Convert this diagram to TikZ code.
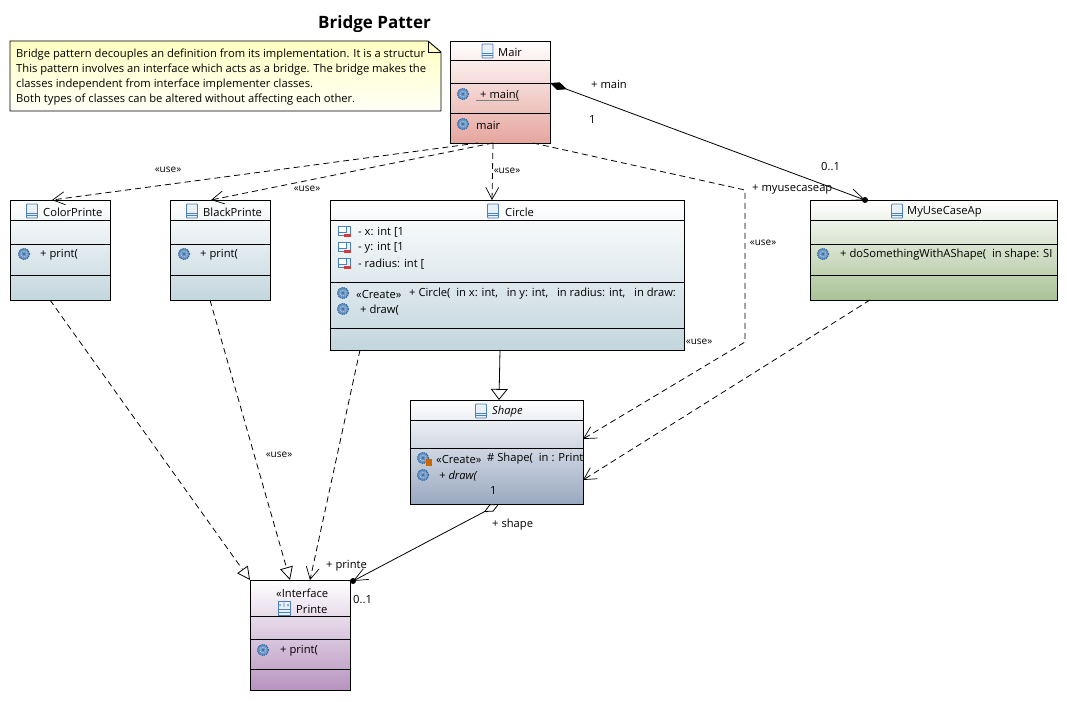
\documentclass[tikz,border=0pt]{standalone}
\usepackage{fontspec}
\setmainfont{Open Sans}
\usetikzlibrary{arrows.meta}
\definecolor{iconblue}{HTML}{4A80BE}
\definecolor{gearblue}{HTML}{2F68A8}
\definecolor{mainred}{HTML}{E5A69E}
\definecolor{printblue}{HTML}{C3D6DD}
\definecolor{appgreen}{HTML}{A9C296}
\definecolor{shapeblue}{HTML}{99A8C0}
\definecolor{ifacepurple}{HTML}{B793BF}
\definecolor{minusred}{HTML}{D23B3B}
\tikzset{
  classbox/.style={draw, line width=0.9pt, anchor=north west, inner sep=0pt, outer sep=0pt,
    top color=white, bottom color=#1},
  txt/.style={anchor=west, inner sep=0pt, yshift=-1pt, font=\fontsize{11.2}{13}\selectfont},
  stereo/.style={anchor=center, inner sep=0pt, font=\fontsize{10}{12}\selectfont},
  depend/.style={line width=0.8pt, dash pattern=on 6pt off 4pt},
  usearrow/.style={depend, -{Straight Barb[length=12pt,width=13pt,line width=0.7pt]}},
  realize/.style={depend, -{Triangle[length=13pt,width=13pt,fill=white,line width=0.8pt]}},
  classicon/.pic={
    \draw[iconblue, fill=iconblue!12, line width=0.8pt, rounded corners=0.8pt] (-5.5,-7) rectangle (5.5,7);
    \draw[iconblue, line width=0.8pt] (-5.5,2) -- (5.5,2) (-5.5,4.6) -- (5.5,4.6);
  },
  gearicon/.pic={
    \draw[gearblue, fill=gearblue!70, line width=1.2pt, densely dotted] (0,0) circle (5.6);
    \draw[white!70!gearblue, line width=0.8pt, densely dotted] (0,0) circle (3);
    \fill[gearblue] (0,0) circle (1.1);
  },
  fieldicon/.pic={
    \draw[iconblue, line width=0.8pt] (-6,-5) rectangle (6,4);
    \draw[iconblue, fill=white, line width=0.8pt] (-6,-5) rectangle (2,1);
    \fill[minusred] (0,2.5) rectangle (7,5.5);
  },
}
\begin{document}
\begin{tikzpicture}[x=1pt, y=-1pt]
  \useasboundingbox (0,0) rectangle (1067,701);
  \fill[white] (0,0) rectangle (1067,701);

  % --- title and note ---
  \node[txt, font=\fontsize{17}{19}\selectfont\bfseries] (lTitle) at (318,23) {Bridge Patter};
  \draw[line width=0.9pt, top color=yellow!24, bottom color=yellow!3]
    (10,41) -- (428,41) -- (441,52) -- (441,111) -- (10,111) -- cycle;
  \draw[line width=0.9pt] (428,41) -- (428,52) -- (441,52);
  \node[txt, anchor=north west, align=left, font=\fontsize{11.2}{15}\selectfont] (lNote) at (16,48)
    {Bridge pattern decouples an definition from its implementation. It is a structur\\
     This pattern involves an interface which acts as a bridge. The bridge makes the\\
     classes independent from interface implementer classes.\\
     Both types of classes can be altered without affecting each other.};

  % --- classes ---
  \node[classbox=mainred, minimum width=100pt, minimum height=102pt] (nMain) at (450,41) {};
  \node[classbox=printblue, minimum width=100pt, minimum height=100pt] (nColor) at (10,200) {};
  \node[classbox=printblue, minimum width=100pt, minimum height=100pt] (nBlack) at (170,200) {};
  \node[classbox=printblue, minimum width=354pt, minimum height=150pt] (nCircle) at (330,200) {};
  \node[classbox=appgreen, minimum width=247pt, minimum height=100pt] (nApp) at (810,200) {};
  \node[classbox=shapeblue, minimum width=173pt, minimum height=104pt] (nShape) at (410,400) {};
  \node[classbox=ifacepurple, minimum width=100pt, minimum height=110pt] (nPrinter) at (250,580) {};

  % compartment lines
  \foreach \nm/\yy in {nMain/60.5, nMain/83, nMain/113,
      nColor/220, nColor/244, nColor/275,
      nBlack/220, nBlack/244, nBlack/275,
      nCircle/220.5, nCircle/282.5, nCircle/328,
      nApp/220, nApp/244, nApp/275,
      nShape/420.5, nShape/448,
      nPrinter/616, nPrinter/639, nPrinter/669}
    \draw[line width=0.9pt] (\nm.west |- 0,\yy) -- (\nm.east |- 0,\yy);

  % --- icons ---
  \foreach \xx/\yy in {487.5/51, 32/211, 192/211, 493/211, 481/411, 897/211}
    \pic at (\xx,\yy) {classicon};
  \foreach \xx/\yy in {463/94, 463/124, 24/254, 184/254, 343/293, 343/309, 423/458, 423/475, 263/650, 823/254}
    \pic at (\xx,\yy) {gearicon};
  \foreach \yy in {231,247,263}
    \pic at (344,\yy) {fieldicon};
  \fill[orange!80!black] (425.5,459) rectangle (432,466);
  % interface icon
  \draw[iconblue, fill=iconblue!12, line width=0.8pt] (278,601) rectangle (290,615);
  \draw[iconblue, line width=0.8pt] (278,609) -- (290,609) (278,612) -- (290,612);
  \draw[iconblue, line width=0.7pt] (284,602.5) -- (284,607) (280.5,604.5) -- (279.5,605) -- (280.5,606) (287.5,604.5) -- (288.5,605) -- (287.5,606);

  % --- class texts ---
  \node[txt] (lMain) at (498,51) {Mair};
  \node[txt] (lMainOp) at (480,94) {+ main(};
  \draw[black!50, line width=0.5pt] ([xshift=-4pt]lMainOp.south west) -- (lMainOp.south east);
  \node[txt] (lMainMain) at (476,124) {mair};
  \node[txt] (lColor) at (43,211) {ColorPrinte};
  \node[txt] (lColorOp) at (40,254) {+ print(};
  \node[txt] (lBlack) at (203,211) {BlackPrinte};
  \node[txt] (lBlackOp) at (200,254) {+ print(};
  \node[txt] (lCircle) at (505,211) {Circle};
  \node[txt] (lFieldX) at (358,231) {- x: int [1};
  \node[txt] (lFieldY) at (358,247) {- y: int [1};
  \node[txt] (lFieldR) at (358,263) {- radius: int [};
  \node[txt] (lCircleSt) at (356,293) {«Create»};
  \node[txt] (lCircleOp) at (409,293) {+ Circle(\ \ in x: int,\ \ \ in y: int,\ \ \ in radius: int,\ \ \ in draw:};
  \node[txt] (lCircleDraw) at (360,309) {+ draw(};
  \node[txt] (lApp) at (907,211) {MyUseCaseAp};
  \node[txt] (lAppOp) at (840,254) {+ doSomethingWithAShape(\ \ in shape: SI};
  \node[txt, font=\fontsize{11.2}{13}\selectfont\itshape] (lShape) at (492,411) {Shape};
  \node[txt] (lShapeSt) at (436,458) {«Create»};
  \node[txt] (lShapeOp) at (487,458) {\# Shape(\ \ in : Print};
  \node[txt, font=\fontsize{11.2}{13}\selectfont\itshape] (lShapeDraw) at (439,475) {+ draw(};
  \node[txt] (lIface) at (276,592) {«Interface};
  \node[txt] (lPrinter) at (296,608) {Printe};
  \node[txt] (lPrinterOp) at (280,650) {+ print(};

  % --- connectors ---
  \draw[usearrow] ([xshift=28pt]nMain.south west) -- ([xshift=42pt]nColor.north west);
  \draw[usearrow] ([xshift=43pt]nMain.south west) -- ([xshift=41pt]nBlack.north west);
  \draw[usearrow] ([xshift=43pt]nMain.south west) -- ([xshift=162pt]nCircle.north west);
  \coordinate (cBendA) at (745,190);
  \coordinate (cBendB) at (745,342);
  \draw[usearrow] ([xshift=83pt]nMain.south west) -- (cBendA) -- (cBendB) -- ([yshift=-39pt]nShape.north east);
  \draw[usearrow] ([xshift=60pt]nApp.south west) -- ([yshift=-80pt]nShape.north east);
  \draw[realize] ([xshift=40pt]nColor.south west) -- (nPrinter.north west);
  \draw[realize] ([xshift=40pt]nBlack.south west) -- ([xshift=40pt]nPrinter.north west);
  \draw[usearrow] ([xshift=30pt]nCircle.south west) -- ([xshift=60pt]nPrinter.north west);
  \draw[line width=0.8pt, -{Triangle[length=11pt,width=17pt,fill=white,line width=0.8pt]}]
    ([xshift=170pt]nCircle.south west) -- ([xshift=89pt]nShape.north west);
  \draw[line width=0.8pt, {Diamond[length=18pt,width=8pt]}-{Straight Barb[length=14pt,width=12pt,line width=0.7pt]}]
    ([yshift=-42pt]nMain.north east) -- ([xshift=55pt]nApp.north west);
  \fill ([xshift=55pt]nApp.north west) circle (3);
  \draw[line width=0.8pt, {Diamond[length=17pt,width=8pt,fill=white]}-{Straight Barb[length=14pt,width=12pt,line width=0.7pt]}]
    ([xshift=89pt]nShape.south west) -- ([xshift=3pt,yshift=-1pt]nPrinter.north east);
  \fill ([xshift=3pt,yshift=-1pt]nPrinter.north east) circle (3);

  % --- connector labels ---
  \foreach \i/\xx/\yy in {1/168/170, 2/307/189, 3/507/171, 4/279/455, 5/699/342, 6/763/243}
    \node[stereo] (lUse\i) at (\xx,\yy) {«use»};
  \node[txt] (lRoleMain) at (591,83) {+ main};
  \node[txt] (lMultMain) at (589,119) {1};
  \node[txt] (lMultApp) at (821,166) {0..1};
  \node[txt] (lRoleApp) at (752,189) {+ myusecaseap};
  \node[txt] (lMultShape) at (490,489) {1};
  \node[txt] (lRoleShape) at (492,524) {+ shape};
  \node[txt] (lRolePrinter) at (326,565) {+ printe};
  \node[txt] (lMultPrinter) at (353,599) {0..1};
\end{tikzpicture}
\end{document}
